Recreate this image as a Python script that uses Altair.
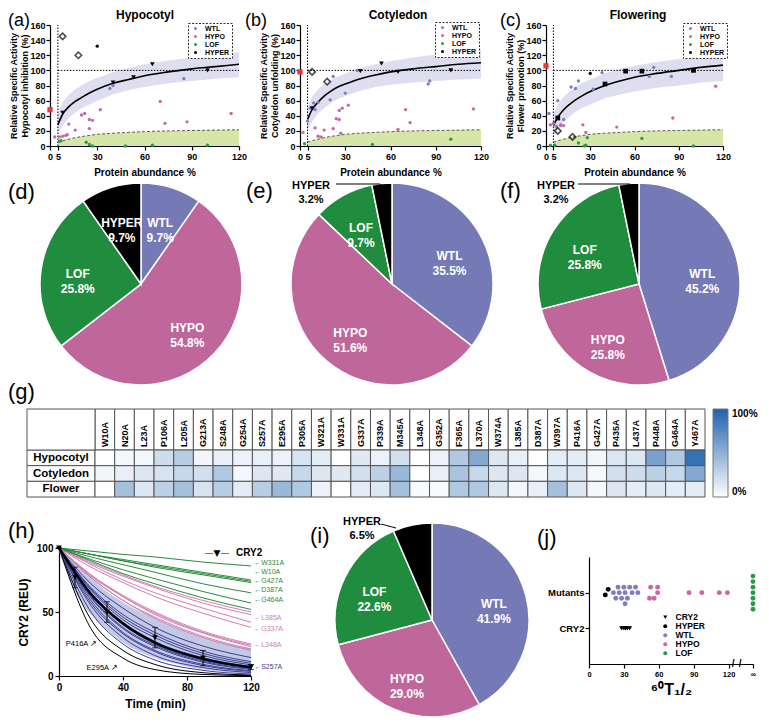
import altair as alt
import pandas as pd

FONT = "Liberation Sans"
W, H = 753, 710


def P(v):
    return v - 8


CATS = ["WTL", "HYPO", "LOF", "HYPER"]
PIE_COLORS = ["#7579b6", "#bf669a", "#1f8d3d", "#000000"]
PT_COLORS = ["#7f7cc0", "#c867a3", "#2a9a48", "#000000"]
LINE_COLORS = ["#3a4294", "#d27db2", "#2a8a3c", "#000000"]

# ---------------- (a)-(c) activity vs abundance ----------------
XTICKS = [0, 5, 30, 60, 90, 120]
REF_X = 5
REF_Y = 100
FIT_X = [5, 8, 12, 16, 20, 25, 30, 40, 50, 60, 75, 90, 105, 120]
GREEN_TOP = [5, 7, 9, 11, 12.5, 14, 15.5, 17, 18, 19, 20, 20.5, 21, 21.5]

FIT_A = [28, 42, 52, 59, 64, 70, 75, 83, 88, 93, 98, 102, 105, 108]
LO_A = [14, 27, 37, 44, 50, 55, 60, 68, 74, 78, 83, 86, 89, 91]
HI_A = [44, 58, 68, 75, 80, 86, 90, 98, 103, 108, 113, 117, 121, 124]
A_WTL = [(38, 76), (85, 89), (40, 80)]
A_HYPO = [(3, 12), (6, 12), (8, 13), (10, 14), (11, 15), (12, 29), (16, 21), (20, 41), (22, 43),
          (25, 35), (25, 23), (27, 34), (32, 48), (70, 59), (73, 30), (87, 32), (115, 43)]
A_LOF = [(6, 6), (7, 7), (23, 5), (25, 2), (27, 0), (48, 0), (65, 1), (100, 1)]
A_HYPER = [(30, 132)]
A_DIAMOND = [(8, 145), (18, 120)]
A_CRY2 = [(8, 44), (40, 84), (53, 91), (65, 108), (100, 100)]
A_RED = 48

FIT_B = [35, 48, 58, 66, 72, 78, 82, 89, 94, 98, 102, 105, 108, 110]
LO_B = [18, 32, 43, 50, 56, 62, 66, 73, 78, 81, 84, 86, 88, 89]
HI_B = [52, 65, 75, 82, 87, 92, 96, 103, 108, 112, 117, 121, 124, 127]
B_WTL = [(5, 33), (7, 50), (10, 48), (12, 58), (20, 61), (22, 92), (30, 70), (38, 100),
         (85, 82), (86, 86), (9, 57)]
B_HYPO = [(2, 18), (10, 24), (12, 13), (14, 12), (16, 21), (22, 23), (24, 36), (26, 35), (26, 47),
          (28, 50), (32, 54), (27, 17), (65, 22), (70, 48), (73, 31), (115, 49)]
B_LOF = [(3, 3), (48, 2), (100, 9)]
B_HYPER = []
B_DIAMOND = [(8, 98), (18, 85)]
B_CRY2 = [(8, 50), (40, 99), (54, 109), (65, 98), (100, 100)]
B_RED = 98

FIT_C = [27, 38, 48, 55, 61, 67, 72, 80, 86, 91, 96, 100, 104, 107]
LO_C = [12, 22, 32, 39, 45, 51, 55, 63, 68, 72, 77, 80, 84, 86]
HI_C = [42, 55, 65, 72, 78, 84, 88, 96, 102, 106, 111, 115, 119, 122]
C_WTL = [(2, 43), (3, 28), (7, 26), (8, 60), (10, 28), (12, 35), (17, 78), (20, 76), (22, 86),
         (32, 75), (38, 97), (70, 92), (73, 104), (85, 92)]
C_HYPO = [(5, 30), (10, 27), (12, 27), (25, 28), (27, 18), (48, 25), (86, 37), (115, 79)]
C_LOF = [(3, 1), (6, 1), (22, 4), (26, 0), (27, 1), (28, 11), (65, 10), (100, 0)]
C_HYPER = [(30, 96)]
C_DIAMOND = [(8, 20), (18, 12)]
C_CRY2 = [(8, 37), (40, 82), (54, 99), (65, 99), (100, 100)]
C_RED = 106

# ---------------- pies ----------------
PIE_D = [9.7, 54.8, 25.8, 9.7]
PIE_E = [35.5, 51.6, 9.7, 3.2]
PIE_F = [45.2, 25.8, 25.8, 3.2]
PIE_I = [41.9, 29.0, 22.6, 6.5]

# ---------------- (g) heatmap ----------------
MUTANTS = ["W10A", "N20A", "L23A", "P106A", "L205A", "G213A", "S248A", "G254A", "S257A", "E295A",
           "P305A", "W321A", "W331A", "G337A", "P339A", "M345A", "L348A", "G352A", "F365A", "L370A",
           "W374A", "L385A", "D387A", "W397A", "P416A", "G427A", "P435A", "L437A", "P448A", "G464A",
           "Y467A"]
TISSUES = ["Hypocotyl", "Cotyledon", "Flower"]
HEAT_HYP = [0, 5, 5, 22, 32, 6, 10, 8, 10, 8, 18, 12, 0, 14, 8, 20, 0, 8, 35, 55,
            15, 10, 0, 12, 12, 6, 16, 15, 60, 35, 90]
HEAT_COT = [6, 10, 15, 18, 25, 20, 35, 5, 15, 14, 25, 15, 14, 20, 30, 45, 0, 10, 38, 25,
            15, 15, 5, 15, 15, 4, 20, 22, 30, 25, 55]
HEAT_FLW = [0, 40, 15, 30, 40, 18, 32, 12, 32, 45, 35, 8, 0, 12, 15, 40, 3, 3, 35, 35,
            15, 5, 10, 40, 15, 5, 15, 12, 15, 12, 12]

# ---------------- (h) degradation ----------------
H_T = [0, 20, 40, 60, 90, 120]
H_CURVES = [
    ("HYPER", "P416A", [100, 44, 20, 9, 2.6, 0.8]),
    ("HYPER", "E295A", [100, 37, 14, 5, 1.2, 0.3]),
    ("WTL", "w1", [100, 50, 25, 12.5, 4.4, 1.6]),
    ("WTL", "w2", [100, 55, 30, 16, 6.6, 2.7]),
    ("WTL", "w3", [100, 57, 33, 19, 8.2, 3.6]),
    ("WTL", "w4", [100, 59, 34, 20, 9.1, 4.1]),
    ("WTL", "w5", [100, 61, 37, 23, 10.8, 5.1]),
    ("WTL", "w6", [100, 62, 38, 24, 11.6, 5.7]),
    ("WTL", "S257A", [100, 63, 40, 25, 12.5, 6.3]),
    ("WTL", "w8", [100, 64, 41, 26, 13.4, 6.8]),
    ("WTL", "w9", [100, 65, 42, 27, 14.3, 7.4]),
    ("WTL", "w10", [100, 67, 44, 30, 16.0, 8.7]),
    ("WTL", "w11", [100, 68, 46, 32, 17.7, 9.9]),
    ("WTL", "w12", [100, 69, 48, 34, 19.4, 11.2]),
    ("WTL", "w13", [100, 72, 53, 38, 23.4, 14.4]),
    ("HYPO", "h1", [100, 77, 59, 45, 30, 20]),
    ("HYPO", "h2", [100, 77, 59, 46, 31, 21]),
    ("HYPO", "L348A", [100, 78, 62, 48, 33.5, 23]),
    ("HYPO", "h4", [100, 79, 62, 49, 34, 24]),
    ("HYPO", "h5", [100, 79, 63, 50, 35, 25]),
    ("HYPO", "G337A", [100, 85, 73, 62, 49, 38]),
    ("HYPO", "L385A", [100, 87, 75, 65, 53, 42]),
    ("HYPO", "h8", [100, 88, 78, 69, 57, 48]),
    ("HYPO", "h9", [100, 89, 79, 70, 59, 50]),
    ("LOF", "W331A", [100, 97.5, 95, 93, 89, 86]),
    ("LOF", "W10A", [100, 95, 91, 87, 81, 75]),
    ("LOF", "G427A", [100, 95, 90, 86, 80, 74]),
    ("LOF", "l4", [100, 95, 90, 85, 79, 73]),
    ("LOF", "D387A", [100, 93, 87, 81, 72, 65]),
    ("LOF", "G464A", [100, 91, 83, 76, 66, 57]),
    ("LOF", "l7", [100, 90, 80, 72, 61, 52]),
]
CRY_T = [0, 10, 30, 60, 90, 120]
CRY_M = [100, 77, 50, 30, 14, 7]
CRY_E = [0, 8, 8, 8, 6, 2]
CRY_FIT = [100, 64, 41, 26, 13.4, 6.8]
BAND_T = [0, 10, 20, 30, 45, 60, 75, 90, 105, 120]
BAND_LO = [97, 66, 48, 36, 22, 14, 9, 5, 3, 2]
BAND_HI = [100, 89, 77, 66, 54, 45, 37, 30, 25, 22]
H_LABELS = ["W331A", "W10A", "G427A", "D387A", "G464A", "L385A", "G337A", "L348A", "S257A"]
H_LABEL_Y = [88, 81, 74, 67.5, 59, 45, 37, 24, 7]
H_LABEL_G = ["LOF", "LOF", "LOF", "LOF", "LOF", "HYPO", "HYPO", "HYPO", "WTL"]
H_BLACK = [("P416A", 14, 25), ("E295A", 27, 6)]

# ---------------- (j) half-lives ----------------
J_INF = 141
J_CRY2 = [28, 30, 31.5, 33, 35]
J_HYPER = [(14, -0.4), (16.5, 0.6)]
J_WTL = [(25, 1), (30, 1), (35, 1), (40, 1), (21, 0), (26, 0), (31, 0), (37, 0), (42, 0),
         (23, -1), (28, -1), (33, -1), (31, -2)]
J_HYPO = [(53, 1), (59, 1), (59, 0), (86, 0), (97, 0), (112, 0), (119, 0), (52, -1), (56, -1)]
J_LOF = [(J_INF, 3), (J_INF, 2), (J_INF, 1), (J_INF, 0), (J_INF, -1), (J_INF, -2), (J_INF, -3)]


# ====================================================================
def ax(**kw):
    base = dict(domainColor="black", domainWidth=1.2, tickColor="black", tickWidth=1.2,
                tickSize=4, labelFont=FONT, labelFontWeight="bold", labelColor="black",
                titleFont=FONT, titleFontWeight="bold", titleColor="black", grid=False,
                labelOverlap=False, labelFlush=False)
    base.update(kw)
    return alt.Axis(**base)


def enc_x(field, scale, axis=None):
    if axis is None:
        return alt.X(field, scale=scale)
    return alt.X(field, scale=scale, axis=axis)


def enc_y(field, scale, axis=None):
    if axis is None:
        return alt.Y(field, scale=scale)
    return alt.Y(field, scale=scale, axis=axis)


def label(text, x, y, size=12, weight="normal", align="left", baseline="alphabetic",
          color="black", font=FONT, angle=0, line_height=None):
    kw = dict(font=font, fontSize=size, fontWeight=weight, align=align, baseline=baseline,
              color=color, angle=angle, lineBreak="\n")
    if line_height:
        kw["lineHeight"] = line_height
    return alt.Chart(pd.DataFrame({"t": [text]})).mark_text(**kw).encode(
        x=alt.value(P(x)), y=alt.value(P(y)), text="t:N")


def seg(x1, y1, x2, y2, width=1, color="black"):
    return alt.Chart(pd.DataFrame({"k": [0]})).mark_rule(color=color, strokeWidth=width).encode(
        x=alt.value(P(x1)), y=alt.value(P(y1)), x2=alt.value(P(x2)), y2=alt.value(P(y2)))


def scatter_panel(x0, x1, fit, lo, hi, groups, diamonds, cry2, cry_shape, red_y, ytitle, leg):
    xs = alt.Scale(domain=[0, 120], range=[P(x0), P(x1)], nice=False, zero=False)
    ys = alt.Scale(domain=[0, 160], range=[P(146), P(25)], nice=False)
    curve = pd.DataFrame({"x": FIT_X, "fit": fit, "lo": lo, "hi": hi, "g": GREEN_TOP})
    xax = ax(orient="bottom", offset=P(146) - H, values=XTICKS, title="Protein abundance %",
             labelFontSize=9, titleFontSize=10, titlePadding=6, labelPadding=2)
    yax = ax(orient="left", offset=-P(x0), values=list(range(0, 161, 20)), title=ytitle,
             labelFontSize=9, titleFontSize=9, titlePadding=0, labelPadding=1,
             titleLineHeight=11.5)
    X = lambda f, a=None: enc_x(f, xs, a)
    Y = lambda f, a=None: enc_y(f, ys, a)
    green = alt.Chart(curve).mark_area(color="#d5e6a6").encode(x=X("x:Q", xax), y=Y("g:Q", yax))
    gline = alt.Chart(curve).mark_line(color="#333333", strokeWidth=0.8, strokeDash=[3, 2]).encode(
        x=X("x:Q"), y=Y("g:Q"))
    band = alt.Chart(curve).mark_area(color="#dcdcef", opacity=0.95).encode(
        x=X("x:Q"), y=Y("lo:Q"), y2="hi:Q")
    vref = alt.Chart(pd.DataFrame({"x": [REF_X], "y0": [0], "y1": [160]})).mark_rule(
        color="black", strokeDash=[1.5, 1.5], strokeWidth=1).encode(x=X("x:Q"), y=Y("y0:Q"), y2="y1:Q")
    href = alt.Chart(pd.DataFrame({"y": [REF_Y], "x0": [REF_X], "x1": [120]})).mark_rule(
        color="black", strokeDash=[1.5, 1.5], strokeWidth=1).encode(y=Y("y:Q"), x=X("x0:Q"), x2="x1:Q")
    fitl = alt.Chart(curve).mark_line(color="black", strokeWidth=1.6, interpolate="monotone").encode(
        x=X("x:Q"), y=Y("fit:Q"))
    rows = [{"x": x, "y": y, "cat": c} for c, pts in zip(CATS, groups) for x, y in pts]
    pts = alt.Chart(pd.DataFrame(rows)).mark_circle(size=11, opacity=1).encode(
        x=X("x:Q"), y=Y("y:Q"),
        color=alt.Color("cat:N", scale=alt.Scale(domain=CATS, range=PT_COLORS),
                        legend=alt.Legend(orient="none", legendX=P(leg[0]), legendY=P(leg[1]),
                                          title=None, strokeColor="#333",
                                          padding=2, labelFont=FONT, labelFontSize=7,
                                          labelFontWeight="bold", labelColor="black",
                                          symbolSize=9, rowPadding=0, labelOffset=6,
                                          symbolOffset=2, fillColor="white")))
    dia = alt.Chart(pd.DataFrame(diamonds, columns=["x", "y"])).mark_point(
        shape="diamond", filled=False, color="black", size=42, strokeWidth=1.6).encode(
        x=X("x:Q"), y=Y("y:Q"))
    cry = alt.Chart(pd.DataFrame(cry2, columns=["x", "y"])).mark_point(
        shape=cry_shape, filled=True, color="black", size=22, opacity=1).encode(x=X("x:Q"), y=Y("y:Q"))
    red = alt.Chart(pd.DataFrame({"x": [0], "y": [red_y]})).mark_square(
        color="#e8353f", size=28, opacity=1).encode(x=X("x:Q"), y=Y("y:Q"))
    return alt.layer(green, gline, band, vref, href, fitl, pts, dia, cry, red)


def pie_panel(vals, cx, cy, r, outside, lab_r=64):
    labs = [f"{c}\n{v:.1f}%" for c, v in zip(CATS, vals)]
    if outside:
        labs[3] = ""
    df = pd.DataFrame({"cat": CATS, "v": vals, "idx": [0, 1, 2, 3], "lab": labs})
    base = alt.Chart(df).encode(
        theta=alt.Theta("v:Q", stack=True), order=alt.Order("idx:Q"), detail="cat:N",
        x=alt.value(P(cx)), y=alt.value(P(cy)))
    arc = base.mark_arc(outerRadius=r, stroke="white", strokeWidth=1.5).encode(
        color=alt.Color("cat:N", scale=alt.Scale(domain=CATS, range=PIE_COLORS), legend=None))
    txt = base.mark_text(radius=lab_r, font=FONT, fontWeight="bold", fontSize=12, color="white",
                         lineBreak="\n", lineHeight=15).encode(text="lab:N")
    return alt.layer(arc, txt)


# ---------- build panels ----------
panel_a = scatter_panel(50, 239, FIT_A, LO_A, HI_A, [A_WTL, A_HYPO, A_LOF, A_HYPER], A_DIAMOND,
                        A_CRY2, "triangle-down", A_RED,
                        ["Relative Specific Activity", "Hypocotyl inhibition (%)"], (188, 23))
panel_b = scatter_panel(300, 481, FIT_B, LO_B, HI_B, [B_WTL, B_HYPO, B_LOF, B_HYPER], B_DIAMOND,
                        B_CRY2, "triangle-down", B_RED,
                        ["Relative Specific Activity", "Cotyledon unfolding (%)"], (435, 22))
panel_c = scatter_panel(546, 723, FIT_C, LO_C, HI_C, [C_WTL, C_HYPO, C_LOF, C_HYPER], C_DIAMOND,
                        C_CRY2, "square", C_RED,
                        ["Relative Specific Activity", "Flower promotion (%)"], (683, 23))

pie_d = pie_panel(PIE_D, 141, 284, 101, False)
pie_e = pie_panel(PIE_E, 392, 284, 101, True)
pie_f = pie_panel(PIE_F, 639, 284, 101, True)
pie_i = pie_panel(PIE_I, 432, 620, 97, True)

# ---------- heatmap ----------
heat_rows = [{"m": m, "tissue": t, "val": v}
             for t, vals in zip(TISSUES, [HEAT_HYP, HEAT_COT, HEAT_FLW]) for m, v in zip(MUTANTS, vals)]
mx = alt.Scale(domain=MUTANTS, range=[P(95), P(705)], paddingInner=0, paddingOuter=0)
ty = alt.Scale(domain=TISSUES, range=[P(450), P(497)], paddingInner=0, paddingOuter=0)
heat_body = alt.Chart(pd.DataFrame(heat_rows)).mark_rect(stroke="#555555", strokeWidth=1).encode(
    x=alt.X("m:N", scale=mx, axis=None),
    y=alt.Y("tissue:N", scale=ty, axis=None),
    color=alt.Color("val:Q", scale=alt.Scale(domain=[0, 100], range=["#ffffff", "#1f62ab"],
                                             interpolate="rgb"),
                    legend=alt.Legend(orient="none", legendX=P(713), legendY=P(409),
                                      direction="vertical", gradientLength=88,
                                      gradientThickness=15, title=None, values=[0, 100],
                                      labelExpr="datum.value + '%'", labelFont=FONT,
                                      labelFontWeight="bold", labelFontSize=10,
                                      labelColor="black", gradientStrokeColor="#777",
                                      gradientStrokeWidth=1, labelOffset=4)))
hdr_df = pd.DataFrame({"m": MUTANTS, "h": ["hdr"] * len(MUTANTS)})
hy = alt.Scale(domain=["hdr"], range=[P(409), P(450)], paddingInner=0, paddingOuter=0)
heat_hdr = alt.layer(
    alt.Chart(hdr_df).mark_rect(fill="white", stroke="#555555", strokeWidth=1).encode(
        x=alt.X("m:N", scale=mx, axis=None), y=alt.Y("h:N", scale=hy, axis=None)),
    alt.Chart(hdr_df).mark_text(angle=270, align="left", baseline="middle", font=FONT,
                                fontWeight="bold", fontSize=9, color="black").encode(
        x=alt.X("m:N", scale=mx, axis=None), y=alt.value(P(447)), text="m:N"),
)
lx = alt.Scale(domain=["lab"], range=[P(27), P(95)], paddingInner=0, paddingOuter=0)
lab_df = pd.DataFrame({"c": ["lab"] * 3, "tissue": TISSUES})
heat_lab = alt.layer(
    alt.Chart(lab_df).mark_rect(fill="white", stroke="#555555", strokeWidth=1).encode(
        x=alt.X("c:N", scale=lx, axis=None), y=alt.Y("tissue:N", scale=ty, axis=None)),
    alt.Chart(lab_df).mark_text(font=FONT, fontWeight="bold", fontSize=11.5, color="black",
                                baseline="middle").encode(
        x=alt.X("c:N", scale=lx, axis=None), y=alt.Y("tissue:N", scale=ty, axis=None), text="tissue:N"),
)
heat_corner = alt.Chart(pd.DataFrame({"c": ["lab"], "h": ["hdr"]})).mark_rect(
    fill="white", stroke="#555555", strokeWidth=1).encode(
    x=alt.X("c:N", scale=lx, axis=None), y=alt.Y("h:N", scale=hy, axis=None))

# ---------- (h) ----------
hx = alt.Scale(domain=[0, 120], range=[P(59), P(251)], nice=False)
hys = alt.Scale(domain=[0, 100], range=[P(676), P(548)], nice=False)
hxax = ax(orient="bottom", offset=P(676) - H, values=[0, 40, 80, 120], title="Time (min)",
          labelFontSize=10, titleFontSize=12, titlePadding=6)
hyax = ax(orient="left", offset=-P(59), values=[0, 50, 100], title="CRY2 (REU)",
          labelFontSize=10, titleFontSize=12, titlePadding=6)
gcol = alt.Scale(domain=CATS, range=LINE_COLORS)
h_band = alt.Chart(pd.DataFrame({"t": BAND_T, "lo": BAND_LO, "hi": BAND_HI})).mark_area(
    color="#aab0dc", opacity=0.7, interpolate="monotone").encode(
    x=enc_x("t:Q", hx, hxax), y=enc_y("lo:Q", hys, hyax), y2="hi:Q")
h_rows = [{"id": n, "g": g, "t": t, "v": v} for g, n, vals in H_CURVES for t, v in zip(H_T, vals)]
h_lines = alt.Chart(pd.DataFrame(h_rows)).mark_line(strokeWidth=1, interpolate="monotone").encode(
    x=enc_x("t:Q", hx), y=enc_y("v:Q", hys),
    color=alt.Color("g:N", scale=gcol, legend=None), detail="id:N")
cry_df = pd.DataFrame({"t": CRY_T, "m": CRY_M, "e": CRY_E})
cry_df["lo"] = cry_df["m"] - cry_df["e"]
cry_df["hi"] = cry_df["m"] + cry_df["e"]
h_fit = alt.Chart(pd.DataFrame({"t": H_T, "v": CRY_FIT})).mark_line(
    color="black", strokeWidth=2.4, interpolate="monotone").encode(
    x=enc_x("t:Q", hx), y=enc_y("v:Q", hys))
h_err = alt.Chart(cry_df).mark_rule(color="black", strokeWidth=1).encode(
    x=enc_x("t:Q", hx), y=enc_y("lo:Q", hys), y2="hi:Q")
h_cap1 = alt.Chart(cry_df).mark_tick(color="black", orient="horizontal", size=6, thickness=1).encode(
    x=enc_x("t:Q", hx), y=enc_y("lo:Q", hys))
h_cap2 = alt.Chart(cry_df).mark_tick(color="black", orient="horizontal", size=6, thickness=1).encode(
    x=enc_x("t:Q", hx), y=enc_y("hi:Q", hys))
h_pts = alt.Chart(cry_df).mark_point(shape="triangle-down", filled=True, color="black", size=32,
                                     opacity=1).encode(
    x=enc_x("t:Q", hx), y=enc_y("m:Q", hys))
h_lab_df = pd.DataFrame({"t": ["\u2190" + s for s in H_LABELS], "y": H_LABEL_Y, "g": H_LABEL_G,
                         "x": [122] * len(H_LABELS)})
h_labs = alt.Chart(h_lab_df).mark_text(font=FONT, fontSize=7, align="left", baseline="middle").encode(
    x=enc_x("x:Q", hx), y=enc_y("y:Q", hys), text="t:N",
    color=alt.Color("g:N", scale=gcol, legend=None))
h_blk_df = pd.DataFrame({"t": [n + " \u2197" for n, _, _ in H_BLACK], "x": [x for _, x, _ in H_BLACK],
                         "y": [y for _, _, y in H_BLACK]})
h_blk = alt.Chart(h_blk_df).mark_text(font=FONT, fontSize=7.5, align="center", baseline="middle",
                                      color="black").encode(
    x=enc_x("x:Q", hx), y=enc_y("y:Q", hys), text="t:N")
panel_h = alt.layer(h_band, h_lines, h_fit, h_err, h_cap1, h_cap2, h_pts, h_labs, h_blk)

# ---------- (j) ----------
J_ORDER = ["CRY2", "HYPER", "WTL", "HYPO", "LOF"]
j_rows = [{"x": x, "base": 1, "lane": 0, "cat": "CRY2"} for x in J_CRY2]
for cat, pts in [("HYPER", J_HYPER), ("WTL", J_WTL), ("HYPO", J_HYPO), ("LOF", J_LOF)]:
    j_rows += [{"x": x, "base": 2, "lane": ln, "cat": cat} for x, ln in pts]
jx = alt.Scale(domain=[0, J_INF], range=[P(589), P(753)], nice=False)
jy = alt.Scale(domain=[0, 3], range=[P(664), P(557)], nice=False)
jxax = ax(orient="bottom", offset=P(664) - H, values=[0, 30, 60, 90, 120, J_INF],
          labelExpr=f"datum.value == {J_INF} ? '\u221e' : datum.label", title="\u2076\u2070T\u2081/\u2082",
          labelFontSize=7.5, titleFontSize=16, titlePadding=4)
jyax = ax(orient="left", offset=-P(589), values=[1, 2],
          labelExpr="datum.value == 2 ? 'Mutants' : 'CRY2'", title=None, labelFontSize=9.5,
          labelPadding=1)
j_pts = alt.Chart(pd.DataFrame(j_rows)).transform_calculate(
    yy="datum.base + datum.lane * 0.155").mark_point(filled=True, size=24, opacity=1).encode(
    x=enc_x("x:Q", jx, jxax), y=enc_y("yy:Q", jy, jyax),
    color=alt.Color("cat:N", scale=alt.Scale(domain=J_ORDER,
                                             range=["#000000", "#000000"] + PT_COLORS[:3]),
                    legend=alt.Legend(orient="none", legendX=P(661), legendY=P(613), title=None,
                                      labelFont=FONT, labelFontSize=8.5, labelFontWeight="bold",
                                      labelColor="black", symbolSize=16, rowPadding=-2,
                                      labelOffset=6, padding=0)),
    shape=alt.Shape("cat:N", scale=alt.Scale(domain=J_ORDER,
                                             range=["triangle-down", "circle", "circle", "circle",
                                                    "circle"]), legend=None))
j_brk = alt.Chart(pd.DataFrame({"x": [124, 130], "y": [0, 0], "t": ["/", "/"]})).mark_text(
    font=FONT, fontSize=10, fontWeight="bold", color="black").encode(
    x=enc_x("x:Q", jx), y=enc_y("y:Q", jy), text="t:N")
panel_j = alt.layer(j_pts, j_brk)

# ---------- annotations ----------
ann = [
    label("(a)", 8, 26, 18), label("(b)", 245, 26, 18), label("(c)", 500, 26, 18),
    label("Hypocotyl", 145, 19, 12, "bold", "center"),
    label("Cotyledon", 398, 19, 12, "bold", "center"),
    label("Flowering", 638, 19, 12, "bold", "center"),
    label("(d)", 8, 199, 22), label("(e)", 246, 198, 22), label("(f)", 500, 198, 22),
    label("(g)", 8, 399, 22),
    label("(h)", 8, 538, 22), label("(i)", 310, 543, 22), label("(j)", 537, 545, 22),
    label("HYPER\n3.2%", 311, 180, 11, "bold", "center", "top", line_height=14),
    label("HYPER\n3.2%", 556, 180, 11, "bold", "center", "top", line_height=14),
    label("HYPER\n6.5%", 362, 516, 11, "bold", "center", "top", line_height=14),
    seg(336, 184, 380, 184), seg(380, 184, 386, 190),
    seg(578, 184, 630, 184), seg(630, 184, 635, 190),
    seg(381, 524, 396, 528),
    label("\u2014\u25bc\u2014", 217, 553, 9, "normal", "center", "middle", font="DejaVu Sans"),
    label("CRY2", 236, 553, 10, "bold", "left", "middle"),
]

chart = alt.layer(
    panel_a, panel_b, panel_c, pie_d, pie_e, pie_f, pie_i,
    heat_hdr, heat_lab, heat_corner, heat_body, panel_h, panel_j, *ann
).resolve_scale(
    x="independent", y="independent", color="independent", theta="independent",
    shape="independent"
).properties(
    width=W, height=H, autosize=alt.AutoSizeParams(type="none"), padding=0
).configure_view(stroke=None).configure_legend(strokeDash=[2, 1.5])

chart.save("out.html", embed_options={"renderer": "svg", "actions": False})
